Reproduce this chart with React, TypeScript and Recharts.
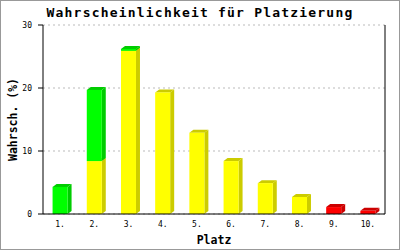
import { BarChart, Bar, XAxis, YAxis, CartesianGrid, Label } from "recharts";

const places = ["1.", "2.", "3.", "4.", "5.", "6.", "7.", "8.", "9.", "10."];
const yellowValues = [0, 8.4, 25.9, 19.3, 12.9, 8.4, 4.9, 2.7, 0, 0];
const redValues = [0, 0, 0, 0, 0, 0, 0, 0, 1.1, 0.5];
const greenValues = [4.3, 11.3, 0.3, 0, 0, 0, 0, 0, 0, 0];
const yTicks = [0, 10, 20, 30];

const data = places.map((place, i) => ({
  place,
  yellow: yellowValues[i],
  red: redValues[i],
  green: greenValues[i],
}));

const MONO = "'DejaVu Sans Mono', monospace";
const DX = 4;
const DY = 3;

function Bar3D(props: any) {
  const { x, y, width, height, fill, side } = props;
  if (!height || height <= 0) return null;
  const b = y + height;
  return (
    <g>
      <polygon
        points={`${x},${y} ${x + DX},${y - DY} ${x + width + DX},${y - DY} ${x + width},${y}`}
        fill={side}
      />
      <polygon
        points={`${x + width},${y} ${x + width + DX},${y - DY} ${x + width + DX},${b - DY} ${x + width},${b}`}
        fill={side}
      />
      <rect x={x} y={y} width={width} height={height} fill={fill} />
    </g>
  );
}

export default function App() {
  return (
    <div
      style={{
        position: "fixed",
        left: 0,
        top: 0,
        width: 400,
        height: 250,
        boxSizing: "border-box",
        border: "1px solid #999",
        background: "#fff",
      }}
    >
      <div
        style={{
          position: "absolute",
          left: 0,
          top: 4,
          width: 398,
          textAlign: "center",
          fontFamily: MONO,
          fontWeight: "bold",
          fontSize: 13,
          letterSpacing: 1.2,
          lineHeight: "16px",
        }}
      >
        Wahrscheinlichkeit für Platzierung
      </div>
      <BarChart
        width={398}
        height={248}
        data={data}
        margin={{ top: 24, right: 0, bottom: 0, left: 7 }}
        barCategoryGap="28%"
      >
        <CartesianGrid
          vertical={false}
          stroke="#bbb"
          strokeDasharray="2 3"
        />
        <XAxis
          dataKey="place"
          stroke="#000"
          tickLine={false}
          tickSize={5}
          tickMargin={2}
          height={35}
          tick={{ fill: "#000", fontSize: 8, fontFamily: MONO }}
        >
          <Label
            value="Platz"
            position="insideBottom"
            offset={5}
            style={{ fontFamily: MONO, fontWeight: "bold", fontSize: 11.5, fill: "#000" }}
          />
        </XAxis>
        <YAxis
          domain={[0, 30]}
          ticks={yTicks}
          width={35}
          stroke="#000"
          tickSize={5}
          tickMargin={6}
          tick={{ fill: "#000", fontSize: 8, fontFamily: MONO }}
        >
          <Label
            content={(p: any) => {
              const vb = p.viewBox;
              const cx = vb.x + 5;
              const cy = vb.y + vb.height / 2;
              return (
                <text
                  x={cx}
                  y={cy}
                  transform={`rotate(-90 ${cx} ${cy})`}
                  textAnchor="middle"
                  dominantBaseline="central"
                  style={{ fontFamily: MONO, fontWeight: "bold", fontSize: 11.5, fill: "#000" }}
                >
                  Wahrsch. (%)
                </text>
              );
            }}
          />
        </YAxis>
        <YAxis
          yAxisId="right"
          orientation="right"
          width={14}
          stroke="#000"
          tick={false}
          tickLine={false}
        />
        <Bar
          dataKey="yellow"
          stackId="a"
          fill="#ffff00"
          isAnimationActive={false}
          shape={(p: any) => <Bar3D {...p} side="#cccc00" />}
        />
        <Bar
          dataKey="red"
          stackId="a"
          fill="#ff0000"
          isAnimationActive={false}
          shape={(p: any) => <Bar3D {...p} side="#cc0000" />}
        />
        <Bar
          dataKey="green"
          stackId="a"
          fill="#00ff00"
          isAnimationActive={false}
          shape={(p: any) => <Bar3D {...p} side="#00cc00" />}
        />
      </BarChart>
    </div>
  );
}
